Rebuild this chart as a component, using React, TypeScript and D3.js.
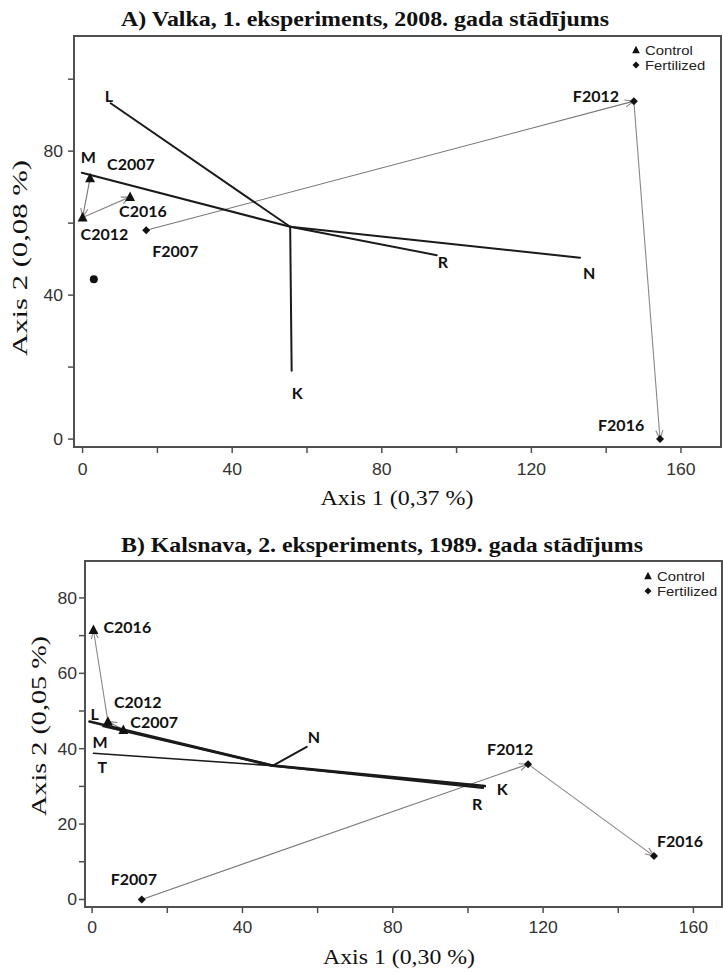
import React from "react";
import * as d3 from "d3";

// ---------- Panel A data ----------
const aTitle = "A) Valka, 1. eksperiments, 2008. gada stādījums";
const aXTitle = "Axis 1 (0,37 %)";
const aYTitle = "Axis 2 (0,08 %)";
const aXTicks = [0, 20, 40, 60, 80, 100, 120, 140, 160];
const aXTickLabels = [0, 40, 80, 120, 160];
const aYTicks = [0, 20, 40, 60, 80, 100];
const aYTickLabels = [0, 40, 80];
const aCenter = { x: 55.5, y: 59 };
const aVectors = [
  { name: "L", x: 7.5, y: 93.3 },
  { name: "M", x: -0.2, y: 74 },
  { name: "K", x: 55.9, y: 19 },
  { name: "R", x: 94.7, y: 51.1 },
  { name: "N", x: 133, y: 50.4 },
];
const aControl = [
  { name: "C2007", x: 2, y: 72.5 },
  { name: "C2012", x: 0, y: 61.6 },
  { name: "C2016", x: 12.7, y: 67.3 },
];
const aFertilized = [
  { name: "F2007", x: 17, y: 58 },
  { name: "F2012", x: 147.4, y: 93.9 },
  { name: "F2016", x: 154.4, y: 0 },
];
const aOther = [{ x: 3, y: 44.4 }];

// ---------- Panel B data ----------
const bTitle = "B) Kalsnava, 2. eksperiments, 1989. gada stādījums";
const bXTitle = "Axis 1 (0,30 %)";
const bYTitle = "Axis 2 (0,05 %)";
const bXTicks = [0, 20, 40, 60, 80, 100, 120, 140, 160];
const bXTickLabels = [0, 40, 80, 120, 160];
const bYTicks = [0, 10, 20, 30, 40, 50, 60, 70, 80];
const bYTickLabels = [0, 20, 40, 60, 80];
const bCenter = { x: 48.1, y: 35.5 };
const bVectors = [
  { name: "L", x: -0.7, y: 47.2 },
  { name: "M", x: 3, y: 46 },
  { name: "T", x: 0.35, y: 38.8 },
  { name: "N", x: 57.1, y: 40.5 },
  { name: "K", x: 104.5, y: 30.1 },
  { name: "R", x: 104, y: 29.6 },
];
const bControl = [
  { name: "C2007", x: 8.3, y: 45 },
  { name: "C2012", x: 4.2, y: 47.2 },
  { name: "C2016", x: 0.35, y: 71.5 },
];
const bFertilized = [
  { name: "F2007", x: 13.2, y: 0 },
  { name: "F2012", x: 116, y: 35.9 },
  { name: "F2016", x: 149.5, y: 11.5 },
];
const bOther: { x: number; y: number }[] = [];

const legendItems = ["Control", "Fertilized"];

// ---------- layout ----------
type Layout = {
  left: number; right: number; top: number; bottom: number;
  xDomain: [number, number]; yDomain: [number, number];
  titleX: number; titleY: number; titleLen: number;
  xTitleX: number; xTitleY: number; xTitleLen: number;
  yTitleX: number; yTitleY: number; yTitleLen: number;
  xLabelY: number; yLabelX: number;
  legendX: number; legendY: number;
  labelOffsets: Record<string, [number, number]>;
  vectorWidths: Record<string, number>;
};

const layoutA: Layout = {
  left: 74, right: 721, top: 36, bottom: 447,
  xDomain: [-2.3, 170.7], yDomain: [-2.2, 112],
  titleX: 365, titleY: 26, titleLen: 488,
  xTitleX: 397, xTitleY: 505, xTitleLen: 153,
  yTitleX: 27, yTitleY: 258, yTitleLen: 196,
  xLabelY: 475, yLabelX: 63,
  legendX: 636, legendY: 50,
  labelOffsets: {
    L: [-6, -1], M: [-1, -10], K: [0, 28], R: [1, 13], N: [3, 21],
    C2007: [17, -8], C2012: [-2, 23], C2016: [-11, 20],
    F2007: [6, 27], F2012: [-61, 1], F2016: [-62, -8],
  },
  vectorWidths: { L: 2, M: 2, K: 2, R: 2, N: 2 },
};

const layoutB: Layout = {
  left: 85, right: 722, top: 561, bottom: 907,
  xDomain: [-1.9, 167.6], yDomain: [-2, 89.8],
  titleX: 382, titleY: 552, titleLen: 522,
  xTitleX: 399, xTitleY: 964, xTitleLen: 152,
  yTitleX: 46, yTitleY: 726, yTitleLen: 180,
  xLabelY: 933, yLabelX: 77,
  legendX: 648, legendY: 576,
  labelOffsets: {
    L: [1, -2], M: [-11, 22], T: [4, 20], N: [1, -4], K: [12, 9], R: [-11, 22],
    C2007: [7, -2], C2012: [6, -14], C2016: [10, 3],
    F2007: [-31, -14], F2012: [-41, -9], F2016: [3, -9],
  },
  vectorWidths: { L: 2.6, M: 2.6, T: 1.6, N: 2, K: 2.6, R: 2.4 },
};

const SERIF = "'Liberation Serif', 'Times New Roman', serif";
const SANS = "'Liberation Sans', Arial, sans-serif";
const LABEL = "Lato, 'Open Sans', sans-serif";

function triPath(cx: number, cy: number, s: number) {
  return `M${cx},${cy - s * 0.6}L${cx + s * 0.55},${cy + s * 0.45}L${cx - s * 0.55},${cy + s * 0.45}Z`;
}
function diaPath(cx: number, cy: number, s: number) {
  return `M${cx},${cy - s / 2}L${cx + s / 2},${cy}L${cx},${cy + s / 2}L${cx - s / 2},${cy}Z`;
}

function Panel(props: {
  id: string; L: Layout; title: string; xTitle: string; yTitle: string;
  xTicks: number[]; xTickLabels: number[]; yTicks: number[]; yTickLabels: number[];
  center: { x: number; y: number }; vectors: { name: string; x: number; y: number }[];
  control: { name: string; x: number; y: number }[];
  fertilized: { name: string; x: number; y: number }[];
  other: { x: number; y: number }[];
}) {
  const { L } = props;
  const x = d3.scaleLinear().domain(L.xDomain).range([L.left, L.right]);
  const y = d3.scaleLinear().domain(L.yDomain).range([L.bottom, L.top]);
  const axisColor = "#505050";
  const trajColor = "#8e8686";
  const segs = (pts: { x: number; y: number }[]) =>
    d3.pairs(pts).map(([a, b], i) => (
      <line key={i} x1={x(a.x)} y1={y(a.y)} x2={x(b.x)} y2={y(b.y)}
        stroke={i === 0 ? "#7a7474" : trajColor} strokeWidth={1.1} markerEnd={`url(#arrow-${props.id})`} />
    ));
  const lbl = (name: string, px: number, py: number) => {
    const o = L.labelOffsets[name] || [0, 0];
    return (
      <text key={"t" + name} x={px + o[0]} y={py + o[1]} fontFamily={LABEL} fontWeight={700}
        fontSize={16} fill="#111">{name}</text>
    );
  };
  const sx = (cx: number) => `translate(${cx},0) scale(1.1,1) translate(${-cx},0)`;
  return (
    <g>
      <defs>
        <marker id={`arrow-${props.id}`} viewBox="0 0 10 10" refX={10} refY={5}
          markerWidth={9} markerHeight={9} markerUnits="userSpaceOnUse" orient="auto">
          <path d="M0,1L10,5L0,9" fill="none" stroke={trajColor} strokeWidth={1.2} />
        </marker>
      </defs>
      {/* title */}
      <text x={L.titleX} y={L.titleY} textAnchor="middle" fontFamily={SERIF} fontWeight={700}
        fontSize={21} textLength={L.titleLen} lengthAdjust="spacingAndGlyphs" fill="#111">{props.title}</text>
      {/* frame */}
      <rect x={L.left} y={L.top} width={L.right - L.left} height={L.bottom - L.top}
        fill="none" stroke={axisColor} strokeWidth={2} />
      {/* ticks */}
      {props.xTicks.map((t) => (
        <line key={"xt" + t} x1={x(t)} x2={x(t)} y1={L.bottom} y2={L.bottom + 6} stroke={axisColor} strokeWidth={1.5} />
      ))}
      {props.yTicks.map((t) => (
        <line key={"yt" + t} x1={L.left - 6} x2={L.left} y1={y(t)} y2={y(t)} stroke={axisColor} strokeWidth={1.5} />
      ))}
      {props.xTickLabels.map((t) => (
        <text key={"xl" + t} x={x(t)} y={L.xLabelY} textAnchor="middle" fontFamily={SANS}
          fontSize={16} fill="#333" transform={sx(x(t))}>{t}</text>
      ))}
      {props.yTickLabels.map((t) => (
        <text key={"yl" + t} x={L.yLabelX} y={y(t) + 6} textAnchor="end" fontFamily={SANS}
          fontSize={16} fill="#333" transform={sx(L.yLabelX)}>{t}</text>
      ))}
      {/* axis titles */}
      <text x={L.xTitleX} y={L.xTitleY} textAnchor="middle" fontFamily={SERIF} fontSize={21}
        textLength={L.xTitleLen} lengthAdjust="spacingAndGlyphs" fill="#111">{props.xTitle}</text>
      <text transform={`translate(${L.yTitleX},${L.yTitleY}) rotate(-90)`} textAnchor="middle"
        fontFamily={SERIF} fontSize={21} textLength={L.yTitleLen} lengthAdjust="spacingAndGlyphs" fill="#111">{props.yTitle}</text>
      {/* trajectories */}
      {segs(props.control)}
      {segs(props.fertilized)}
      {/* vectors */}
      {props.vectors.map((v) => (
        <line key={"v" + v.name} x1={x(props.center.x)} y1={y(props.center.y)} x2={x(v.x)} y2={y(v.y)}
          stroke="#1a1a1a" strokeWidth={L.vectorWidths[v.name] || 2} strokeLinecap="round" />
      ))}
      {props.vectors.map((v) => lbl(v.name, x(v.x), y(v.y)))}
      {/* points */}
      {props.control.map((p) => (
        <path key={"c" + p.name} d={triPath(x(p.x), y(p.y), 9)} fill="#111" />
      ))}
      {props.fertilized.map((p) => (
        <path key={"f" + p.name} d={diaPath(x(p.x), y(p.y), 8)} fill="#111" />
      ))}
      {props.other.map((p, i) => (
        <circle key={"o" + i} cx={x(p.x)} cy={y(p.y)} r={4} fill="#111" />
      ))}
      {props.control.map((p) => lbl(p.name, x(p.x), y(p.y)))}
      {props.fertilized.map((p) => lbl(p.name, x(p.x), y(p.y)))}
      {/* legend */}
      <path d={triPath(L.legendX, L.legendY, 7)} fill="#111" />
      <path d={diaPath(L.legendX, L.legendY + 15, 7)} fill="#111" />
      {legendItems.map((s, i) => (
        <text key={s} x={L.legendX + 9} y={L.legendY + 5 + i * 15} fontFamily={SANS} fontSize={13.5}
          fill="#222" transform={sx(L.legendX + 9)}>{s}</text>
      ))}
    </g>
  );
}

export default function App() {
  return (
    <svg width={723} height={972} style={{ position: "absolute", left: 0, top: 0, background: "#fff" }}>
      <rect width={723} height={972} fill="#fff" />
      <Panel id="a" L={layoutA} title={aTitle} xTitle={aXTitle} yTitle={aYTitle}
        xTicks={aXTicks} xTickLabels={aXTickLabels} yTicks={aYTicks} yTickLabels={aYTickLabels}
        center={aCenter} vectors={aVectors} control={aControl} fertilized={aFertilized} other={aOther} />
      <Panel id="b" L={layoutB} title={bTitle} xTitle={bXTitle} yTitle={bYTitle}
        xTicks={bXTicks} xTickLabels={bXTickLabels} yTicks={bYTicks} yTickLabels={bYTickLabels}
        center={bCenter} vectors={bVectors} control={bControl} fertilized={bFertilized} other={bOther} />
    </svg>
  );
}
